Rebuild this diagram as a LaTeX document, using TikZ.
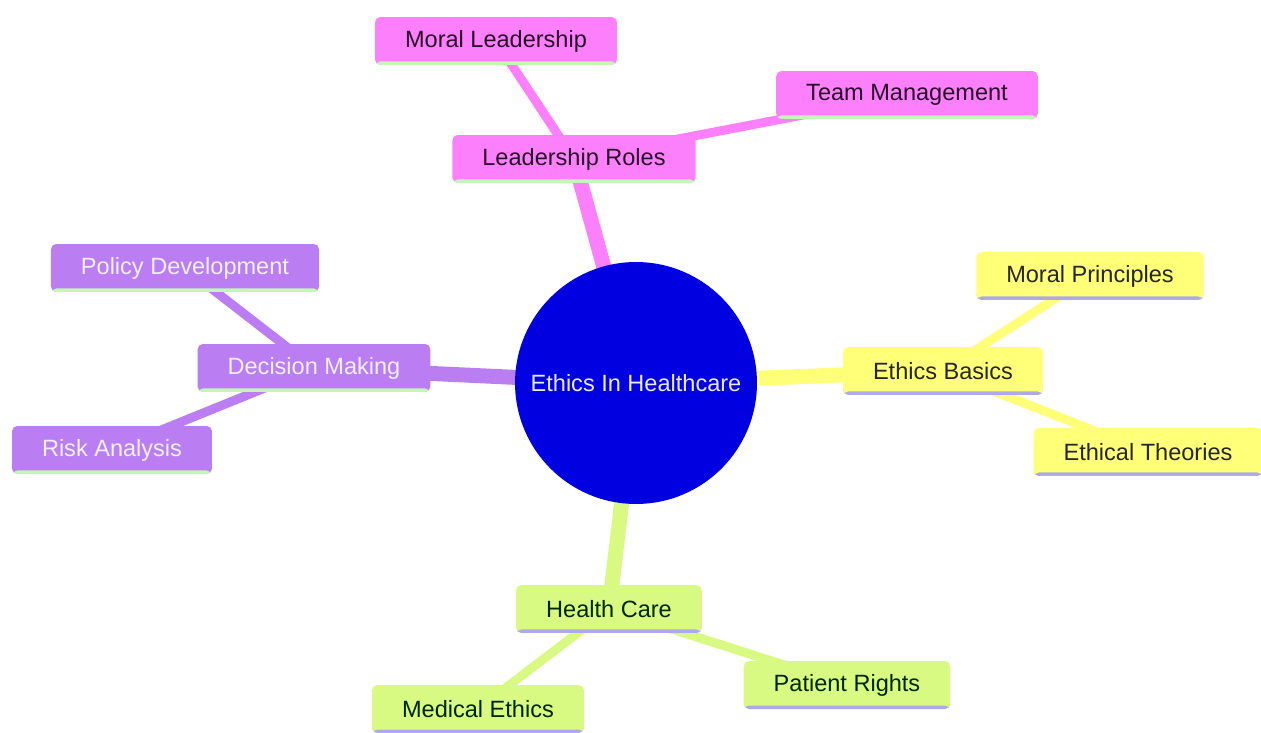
\documentclass[tikz,border=0pt]{standalone}
\usepackage{fontspec}
\setmainfont{Liberation Sans}
\usetikzlibrary{positioning,backgrounds}
\definecolor{mmblue}{RGB}{0, 0, 224}
\definecolor{mmpink}{RGB}{252, 128, 252}
\definecolor{mmyellow}{RGB}{255, 255, 120}
\definecolor{mmpurple}{RGB}{186, 126, 242}
\definecolor{mmgreen}{RGB}{216, 250, 130}
\definecolor{mmmint}{RGB}{196, 246, 184}
\definecolor{mmlav}{RGB}{176, 168, 232}
\definecolor{mmdark}{RGB}{40, 10, 40}

\tikzset{
  topic/.style={rectangle, rounded corners=3pt, minimum height=0.96cm, inner xsep=0.6cm, inner ysep=0pt,
    font=\fontsize{13.4}{16}\selectfont},
  underline/.style={path picture={\fill[#1] (path picture bounding box.south west) rectangle ([yshift=0.07cm]path picture bounding box.south east);}},
  pinkbox/.style={topic, fill=mmpink, text=mmdark, underline=mmmint},
  yellowbox/.style={topic, fill=mmyellow, text=black!85, underline=mmlav},
  purplebox/.style={topic, fill=mmpurple, text=white!94!blue, underline=mmmint},
  greenbox/.style={topic, fill=mmgreen, text=black!85!green, underline=mmlav},
  trunk/.style={line width=0.3cm},
  twig/.style={line width=0.18cm}
}

\begin{document}
\begin{tikzpicture}[x=0.02cm, y=-0.02cm]
    \useasboundingbox (0,0) rectangle (1261,733);

    % Centre
    \node[circle, fill=mmblue, minimum size=4.84cm, inner sep=0pt, text=white!92!blue,
          font=\fontsize{13.4}{16}\selectfont] (root) at (636,383) {Ethics In Healthcare};

    % Leadership branch
    \node[pinkbox] (lead) at (574,159) {Leadership Roles};
    \node[pinkbox] (moral) at (496,41) {Moral Leadership};
    \node[pinkbox] (team) at (907,95) {Team Management};

    % Ethics branch
    \node[yellowbox] (basics) at (943,371) {Ethics Basics};
    \node[yellowbox] (principles) at (1090,276) {Moral Principles};
    \node[yellowbox] (theories) at (1148,452) {Ethical Theories};

    % Decision branch
    \node[purplebox] (decision) at (314,368) {Decision Making};
    \node[purplebox] (policy) at (185,268) {Policy Development};
    \node[purplebox] (risk) at (112,450) {Risk Analysis};

    % Health branch
    \node[greenbox] (health) at (609,609) {Health Care};
    \node[greenbox] (medical) at (478,709) {Medical Ethics};
    \node[greenbox] (rights) at (847,685) {Patient Rights};

    % Connectors
    \begin{scope}[on background layer]
        \draw[mmpink, trunk] (root.center) -- (lead.center);
        \draw[mmpink, twig] (lead.center) -- (moral.center);
        \draw[mmpink, twig] (lead.center) -- (team.center);
        \draw[mmyellow, trunk] (root.center) -- (basics.center);
        \draw[mmyellow, twig] (basics.center) -- (principles.center);
        \draw[mmyellow, twig] (basics.center) -- (theories.center);
        \draw[mmpurple, trunk] (root.center) -- (decision.center);
        \draw[mmpurple, twig] (decision.center) -- (policy.center);
        \draw[mmpurple, twig] (decision.center) -- (risk.center);
        \draw[mmgreen, trunk] (root.center) -- (health.center);
        \draw[mmgreen, twig] (health.center) -- (medical.center);
        \draw[mmgreen, twig] (health.center) -- (rights.center);
    \end{scope}
\end{tikzpicture}
\end{document}
